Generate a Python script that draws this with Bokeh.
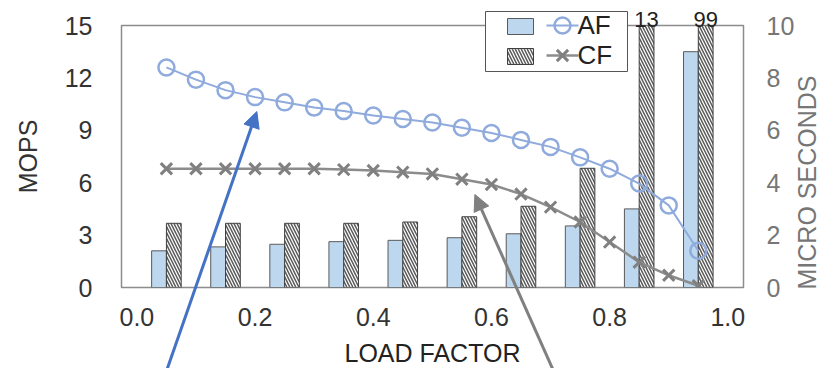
import math
from bokeh.plotting import figure
from bokeh.layouts import column
from bokeh.models import (Range1d, LinearAxis, FixedTicker, PrintfTickFormatter,
                          Arrow, NormalHead, ColumnDataSource)
from bokeh.core.properties import value
from bokeh.transform import dodge
from bokeh.embed import file_html
from bokeh.resources import INLINE

# Throughput (MOPS) sampled every 0.05 of load factor
load_points = [0.05, 0.10, 0.15, 0.20, 0.25, 0.30, 0.35, 0.40, 0.45, 0.50,
               0.55, 0.60, 0.65, 0.70, 0.75, 0.80, 0.85, 0.90, 0.95]
af_mops = [12.6, 11.9, 11.3, 10.9, 10.6, 10.3, 10.1, 9.85, 9.65, 9.45,
           9.15, 8.85, 8.45, 8.05, 7.45, 6.8, 5.95, 4.7, 2.1]
cf_mops = [6.8, 6.8, 6.8, 6.8, 6.8, 6.8, 6.75, 6.7, 6.6, 6.5,
           6.2, 5.9, 5.35, 4.6, 3.75, 2.6, 1.45, 0.7, 0.1]

# Latency (micro seconds) sampled every 0.1 of load factor
bar_load = [0.05, 0.15, 0.25, 0.35, 0.45, 0.55, 0.65, 0.75, 0.85, 0.95]
af_latency = [1.4, 1.55, 1.65, 1.75, 1.8, 1.9, 2.05, 2.35, 3.0, 9.0]
cf_latency = [2.45, 2.45, 2.45, 2.45, 2.5, 2.7, 3.1, 4.55, 13, 99]

x_ticks = [0.0, 0.2, 0.4, 0.6, 0.8, 1.0]
mops_ticks = [0, 3, 6, 9, 12, 15]
usec_ticks = [0, 2, 4, 6, 8, 10]

FONT = "Liberation Sans"
DARK = "#333333"
GREY = "#767676"
AF_BLUE = "#8faadc"
AF_FILL = "#bdd7ee"
CF_GREY = "#8c8c8c"
CF_MARK = "#808080"

# page geometry (pixels)
W, H = 822, 368
LEFT, RIGHT, TOP, BOTTOM = 121, 79, 25, 81
FW, FH = W - LEFT - RIGHT, H - TOP - BOTTOM

X0, X1 = -0.026, 1.0265
MOPS_MAX = mops_ticks[-1]
USEC_MAX = usec_ticks[-1]

p = figure(frame_width=FW, frame_height=FH, output_backend="svg", toolbar_location=None,
           tools="", title=None, x_range=Range1d(X0, X1), y_range=Range1d(0, MOPS_MAX),
           min_border_left=LEFT, min_border_right=RIGHT, min_border_top=TOP,
           min_border_bottom=BOTTOM)
p.extra_y_ranges = {"usec": Range1d(0, USEC_MAX)}
p.background_fill_color = "white"
p.border_fill_color = "white"
p.outline_line_color = "#8c8c8c"
p.outline_line_width = 1.5
p.xgrid.visible = False
p.ygrid.visible = False

lines_src = ColumnDataSource(dict(load=load_points, af=af_mops, cf=cf_mops))
bars_src = ColumnDataSource(dict(load=bar_load, af=af_latency, cf=cf_latency))

bar_w = 0.025
hatch = dict(hatch_pattern="left_diagonal_line", hatch_color="#5a5a5a",
             hatch_scale=6, hatch_weight=1.5)
p.vbar(x=dodge("load", -bar_w / 2, range=p.x_range), top="af", width=bar_w,
       bottom=0, source=bars_src, y_range_name="usec",
       fill_color=AF_FILL, line_color="#5a5a5a", line_width=1)
p.vbar(x=dodge("load", bar_w / 2, range=p.x_range), top="cf", width=bar_w,
       bottom=0, source=bars_src, y_range_name="usec",
       fill_color="white", line_color="#404040", line_width=1, **hatch)

p.line("load", "af", source=lines_src, line_color=AF_BLUE, line_width=2)
p.scatter("load", "af", source=lines_src, marker="circle", size=16,
          fill_color=None, line_color=AF_BLUE, line_width=2.5)
p.line("load", "cf", source=lines_src, line_color=CF_GREY, line_width=2.5)
p.scatter("load", "cf", source=lines_src, marker="x", size=16,
          line_color=CF_MARK, line_width=3)

# axes
p.xaxis.ticker = FixedTicker(ticks=x_ticks)
p.xaxis.formatter = PrintfTickFormatter(format="%.1f")
p.xaxis.axis_label = "LOAD FACTOR"
p.yaxis.ticker = FixedTicker(ticks=mops_ticks)
p.yaxis.axis_label = "MOPS"
right = LinearAxis(y_range_name="usec", ticker=FixedTicker(ticks=usec_ticks))
p.add_layout(right, "right")

for ax in [p.xaxis[0], p.yaxis[0], right]:
    ax.axis_line_color = None
    ax.major_tick_line_color = None
    ax.minor_tick_line_color = None
    ax.major_tick_out = 0
    ax.major_tick_in = 0
    ax.minor_tick_out = 0
    ax.minor_tick_in = 0
    ax.major_label_text_font = FONT
    ax.major_label_text_font_size = "25px"
    ax.axis_label_text_font = FONT
    ax.axis_label_text_font_size = "25px"
    ax.axis_label_text_font_style = "normal"

p.xaxis.major_label_standoff = 20
p.xaxis.axis_label_standoff = 10
p.xaxis.major_label_text_color = DARK
p.xaxis.axis_label_text_color = "#222222"
p.yaxis.major_label_standoff = 29
p.yaxis.axis_label_standoff = 20
p.yaxis.major_label_text_color = DARK
p.yaxis.axis_label_text_color = DARK
right.major_label_standoff = 23
right.major_label_text_color = GREY

# Transparent layer laid over the chart. Its plot area lines up with the left
# edge of the chart's plot area and runs past the right edge of the page, so
# the pointers, the legend, the right-hand title and the off-scale values may
# cross the plot border.
kx = FW / (X1 - X0)
ky = FH / MOPS_MAX
ku = FH / USEC_MAX
ov = figure(frame_width=W, frame_height=H, output_backend="svg", toolbar_location=None,
            tools="", title=None, x_axis_location=None, y_axis_location=None,
            x_range=Range1d(X0, X0 + W / kx),
            y_range=Range1d(-BOTTOM / ky, MOPS_MAX + TOP / ky),
            min_border=0, min_border_left=0, min_border_right=0,
            min_border_top=0, min_border_bottom=0)
ov.extra_y_ranges = {"usec": Range1d(-BOTTOM / ku, USEC_MAX + TOP / ku)}
ov.background_fill_alpha = 0
ov.border_fill_alpha = 0
ov.outline_line_color = None
ov.xgrid.visible = False
ov.ygrid.visible = False
ov.margin = (-H, 0, 0, 0)


def sx(px):
    return X0 + (px - LEFT) / kx


def sy(py):
    return MOPS_MAX - (py - TOP) / ky


# values of the bars that run past the top of the latency axis
over = [(x + bar_w / 2, v) for x, v in zip(bar_load, cf_latency) if v > USEC_MAX]
over_src = ColumnDataSource(dict(x=[o[0] for o in over],
                                 y=[USEC_MAX] * len(over),
                                 text=[str(o[1]) for o in over]))
ov.text(x="x", y="y", text="text", source=over_src, y_range_name="usec",
        text_align="center", text_baseline="bottom", text_font=value(FONT),
        text_font_size="22px", text_color="#222222")

# right-hand axis title, reading upwards
ov.text(x=[sx(806)], y=[sy(181)], text=["MICRO SECONDS"], angle=math.pi / 2,
        text_align="center", text_baseline="middle", text_font=value(FONT),
        text_font_size="25px", text_color=GREY)

# legend
ov.quad(left=[sx(485)], right=[sx(627)], top=[sy(10)], bottom=[sy(70)],
        fill_color="white", line_color="#555555", line_width=1)
ov.quad(left=[sx(507)], right=[sx(533)], top=[sy(17)], bottom=[sy(33)],
        fill_color=AF_FILL, line_color="#5a5a5a", line_width=1)
ov.quad(left=[sx(507)], right=[sx(533)], top=[sy(47)], bottom=[sy(63)],
        fill_color="white", line_color="#404040", line_width=1, **hatch)
ov.line([sx(546), sx(578)], [sy(24)] * 2, line_color=AF_BLUE, line_width=2)
ov.scatter([sx(562)], [sy(24)], marker="circle", size=16, fill_color=None,
           line_color=AF_BLUE, line_width=2.5)
ov.line([sx(546), sx(578)], [sy(54)] * 2, line_color=CF_GREY, line_width=2.5)
ov.scatter([sx(562)], [sy(54)], marker="x", size=16, line_color=CF_MARK, line_width=3)
ov.text(x=[sx(577), sx(577)], y=[sy(23), sy(53)], text=["AF", "CF"],
        text_align="left", text_baseline="middle", text_font=value(FONT),
        text_font_size="26px", text_color="#222222")

# pointers to the two curves
ov.add_layout(Arrow(x_start=0.051, y_start=-BOTTOM / ky, x_end=0.203, y_end=10.13,
                    line_color="#4472c4", line_width=3,
                    end=NormalHead(size=16, fill_color="#4472c4", line_color="#4472c4")))
ov.add_layout(Arrow(x_start=0.704, y_start=-BOTTOM / ky, x_end=0.572, y_end=5.38,
                    line_color="#808080", line_width=3,
                    end=NormalHead(size=16, fill_color="#808080", line_color="#808080")))

page = column(p, ov, spacing=0)
open("out.html", "w").write(file_html(page, INLINE))
